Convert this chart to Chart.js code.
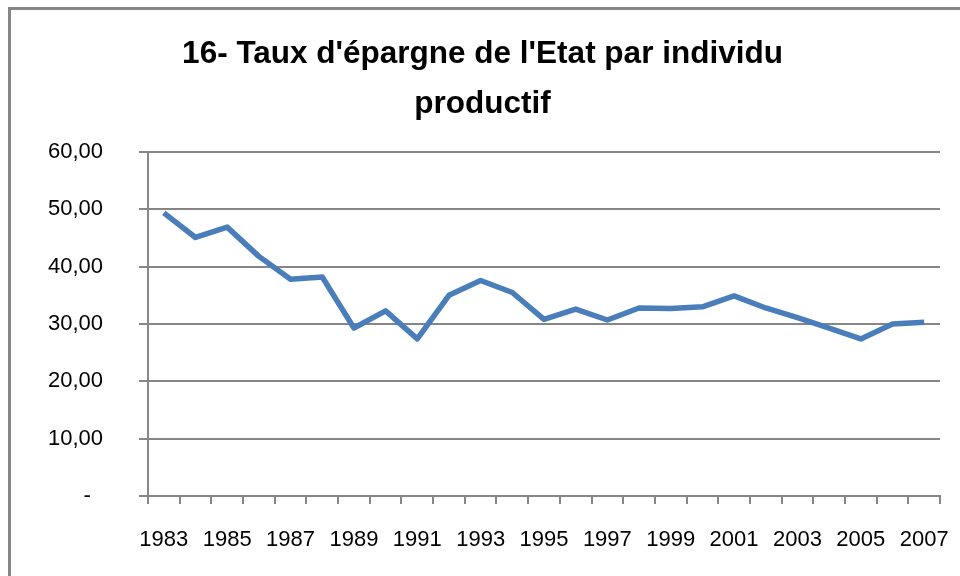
<!DOCTYPE html>
<html>
<head>
<meta charset="utf-8">
<script src="https://cdn.jsdelivr.net/npm/chart.js@4/dist/chart.umd.min.js"></script>
<style>
html,body{margin:0;padding:0;background:#fff;}
#wrap{width:960px;height:576px;position:relative;}
</style>
</head>
<body>
<div id="wrap"><canvas id="c" width="960" height="576"></canvas></div>
<script>
const titleLines = ["16- Taux d'épargne de l'Etat par individu", "productif"];
const years = ["1983","1984","1985","1986","1987","1988","1989","1990","1991","1992","1993","1994","1995","1996","1997","1998","1999","2000","2001","2002","2003","2004","2005","2006","2007"];
const savingsRate = [49.4,45.1,46.9,41.8,37.8,38.2,29.3,32.3,27.4,35.0,37.6,35.5,30.8,32.6,30.7,32.8,32.7,33.0,34.9,32.8,31.1,29.3,27.4,30.0,30.3];
const yTicks = [0,10,20,30,40,50,60];

const frame = {
  id: 'frame',
  beforeDraw(chart) {
    const ctx = chart.ctx;
    ctx.save();
    ctx.fillStyle = '#fff';
    ctx.fillRect(0, 0, chart.width, chart.height);
    ctx.strokeStyle = '#868686';
    ctx.lineWidth = 3;
    ctx.strokeRect(9.5, 8.5, 1000, 700);
    ctx.restore();
  }
};

const FONT = 'Liberation Sans, Arial, sans-serif';

new Chart(document.getElementById('c'), {
  type: 'line',
  data: {
    labels: years,
    datasets: [{
      data: savingsRate,
      borderColor: '#4a7ebb',
      borderWidth: 5.5,
      pointRadius: 0,
      tension: 0,
      fill: false,
      borderCapStyle: 'butt',
      borderJoinStyle: 'round'
    }]
  },
  options: {
    responsive: false,
    animation: false,
    layout: { padding: { left: 25, right: 20, top: 20, bottom: 0 } },
    plugins: {
      legend: { display: false },
      tooltip: { enabled: false },
      title: {
        display: true,
        text: titleLines,
        color: '#000',
        font: { family: FONT, size: 31.5, weight: 'bold', lineHeight: 1.58 },
        padding: { top: 9.5, bottom: 23 }
      }
    },
    scales: {
      x: {
        offset: true,
        grid: { display: true, drawOnChartArea: false, drawTicks: true, tickLength: 8, color: '#868686', lineWidth: 2, offset: true },
        border: { display: true, color: '#868686', width: 2 },
        ticks: {
          autoSkip: false,
          maxRotation: 0,
          padding: 23,
          color: '#000',
          font: { family: FONT, size: 22 },
          callback: function(v, i) { return i % 2 === 0 ? years[i] : ''; }
        },
        afterFit(scale) { scale.height = 80; scale.paddingLeft = 0; scale.paddingRight = 0; }
      },
      y: {
        min: 0,
        max: 60,
        afterBuildTicks(scale) { scale.ticks = yTicks.map(v => ({ value: v })); },
        grid: { color: '#868686', lineWidth: 2, drawTicks: true, tickLength: 9 },
        border: { display: true, color: '#868686', width: 2 },
        ticks: {
          padding: 36,
          color: '#000',
          font: { family: FONT, size: 22 },
          callback: function(v) { return v === 0 ? '-  ' : v.toFixed(2).replace('.', ','); }
        },
        afterFit(scale) { scale.width = 123; }
      }
    }
  },
  plugins: [frame]
});
</script>
</body>
</html>
